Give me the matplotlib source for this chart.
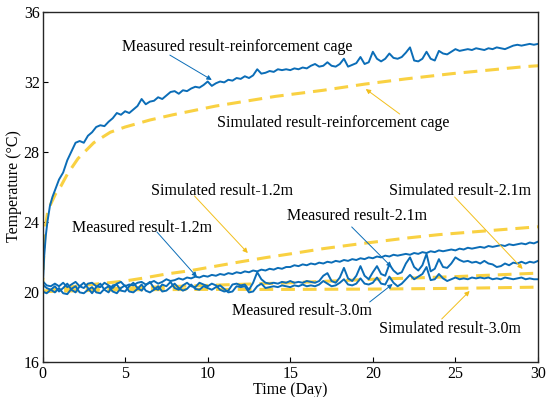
import matplotlib
matplotlib.use("Agg")
import matplotlib.pyplot as plt
import numpy as np

plt.rcParams['font.family'] = ['Liberation Serif', 'DejaVu Serif']
plt.rcParams['mathtext.fontset'] = 'stix'

# ---- measured data (read off the figure), 0.25 day steps ----
# reinforcement cage: first day with finer steps, then 0.25 day grid from day 1.25
cage_days_early = [0, 0.05, 0.1, 0.2, 0.3, 0.45, 0.6, 0.8, 1.0]
cage_early = [20.2, 21.0, 22.0, 23.2, 24.0, 24.9, 25.4, 25.9, 26.4]
cage_meas = [
    26.8, 27.5, 28.0,
    28.5, 28.6, 28.5, 28.9,
    29.1, 29.4, 29.5, 29.45,
    29.7, 29.9, 30.2, 30.1,
    30.3, 30.2, 30.4, 30.6,
    31.0, 30.7, 30.85, 30.9,
    31.1, 31.0, 31.2, 31.4,
    31.45, 31.3, 31.5, 31.45,
    31.6, 31.7, 31.65, 31.8,
    32.0, 31.75, 31.9, 32.0,
    31.95, 32.1, 32.05, 32.2,
    32.15, 32.3, 32.2, 32.35,
    32.7, 32.45, 32.5, 32.6,
    32.55, 32.7, 32.65, 32.7,
    32.65, 32.75, 32.7, 32.8,
    32.75, 32.9, 33.0, 32.85,
    32.9, 33.1, 32.9, 32.85,
    33.0, 33.3, 32.85, 32.95,
    33.05, 33.4, 33.0, 33.1,
    33.7, 33.3, 33.15, 33.3,
    33.6, 33.35, 33.3, 33.4,
    33.65, 33.95, 33.2, 33.15,
    33.3, 33.7, 33.3, 33.2,
    33.75, 33.6, 33.55, 33.7,
    33.85, 33.75, 33.8, 33.85,
    33.8, 33.9, 33.85, 33.8,
    33.9, 33.85, 33.95, 33.9,
    33.85, 33.95, 34.05, 34.1,
    34.05, 34.1, 34.15, 34.1,
    34.15,
]

# depth 1.2 m, days 0..30
meas_12 = [
    20.6, 20.35, 20.3, 20.45,
    20.3, 20.5, 20.25, 20.4,
    20.55, 20.3, 20.2, 20.45,
    20.5, 20.3, 20.25, 20.5,
    20.35, 20.2, 20.45, 20.55,
    20.3, 20.4, 20.35, 20.5,
    20.55, 20.4, 20.5, 20.6,
    20.45, 20.55, 20.7, 20.6,
    20.65, 20.75, 20.68, 20.8,
    20.75, 20.85, 20.8, 20.9,
    20.85, 20.95, 20.9, 21.0,
    20.95, 21.05, 21.0, 21.1,
    21.05, 21.15, 21.1, 21.2,
    21.15, 21.25, 21.2, 21.3,
    21.25, 21.35, 21.3, 21.4,
    21.4, 21.5, 21.45, 21.55,
    21.5, 21.6, 21.55, 21.65,
    21.6, 21.7, 21.65, 21.75,
    21.7, 21.8, 21.75, 21.85,
    21.8, 21.9, 21.85, 21.95,
    21.9, 22.0, 21.95, 22.05,
    22.0, 22.1, 22.05, 22.1,
    22.15, 22.1, 22.2, 22.15,
    22.25, 22.2, 22.3, 22.25,
    22.35, 22.3, 22.35, 22.4,
    22.35, 22.45, 22.4, 22.5,
    22.45, 22.5, 22.55, 22.5,
    22.6, 22.55, 22.6, 22.65,
    22.6, 22.7, 22.65, 22.7,
    22.75, 22.7, 22.8, 22.75,
    22.85,
]

# depth 2.1 m
meas_21 = [
    20.4, 20.2, 20.1, 20.3,
    20.0, 20.2, 20.45, 20.1,
    19.95, 20.3, 20.5, 20.2,
    19.9, 20.25, 20.45, 20.1,
    19.95, 20.35, 20.4, 20.05,
    20.0, 20.3, 20.5, 20.2,
    20.05, 20.35, 20.55, 20.2,
    20.1, 20.4, 20.3, 20.55,
    20.2, 20.1, 20.35, 20.5,
    20.3, 20.25, 20.5, 20.4,
    20.3, 20.45, 20.35, 20.1,
    20.0, 20.05, 20.4, 20.45,
    20.35, 20.4, 20.1, 20.5,
    21.1, 20.7, 20.5, 20.45,
    20.5, 20.45, 20.55, 20.5,
    20.6, 20.5, 20.55, 20.5,
    20.6, 20.55, 20.5, 20.6,
    20.9, 21.05, 20.6, 20.5,
    20.8, 21.35, 20.75, 20.6,
    20.9, 21.45, 20.9, 20.7,
    21.1, 21.45, 21.0, 20.9,
    21.55, 21.2, 21.0, 21.1,
    21.6, 21.95, 21.4, 21.2,
    21.5, 22.15, 21.15, 21.3,
    21.85, 21.4, 21.35, 21.6,
    21.95, 21.8, 21.7, 21.75,
    21.65, 21.7, 21.6, 21.75,
    21.6, 21.55, 21.4, 21.45,
    21.6, 21.5, 21.65, 21.6,
    21.7, 21.6, 21.7, 21.65,
    21.75,
]

# depth 3.0 m
meas_30 = [
    20.0, 19.9, 20.1, 19.95,
    20.2, 19.9, 19.85, 20.15,
    20.3, 19.95, 19.9, 20.1,
    20.25, 19.95, 19.9, 20.15,
    20.3, 20.0, 19.9, 20.2,
    20.35, 20.0, 19.95, 20.15,
    20.4, 20.05, 19.95, 20.1,
    20.3, 20.0, 20.05, 20.25,
    20.45, 20.2, 20.05, 20.15,
    20.4, 20.15, 20.1, 20.3,
    20.2, 20.1, 20.25, 20.35,
    20.15, 19.95, 20.0, 20.3,
    20.25, 20.3, 19.95, 20.0,
    20.3, 20.45, 20.2, 20.25,
    20.3, 20.25, 20.35, 20.3,
    20.25, 20.35, 20.3, 20.4,
    20.3, 20.35, 20.3, 20.4,
    20.6, 20.45, 20.3, 20.35,
    20.5, 20.7, 20.4, 20.35,
    20.45, 20.75, 20.45, 20.4,
    20.5, 20.8, 20.45, 20.4,
    20.85, 20.5, 20.3, 20.45,
    20.7, 20.95, 20.7, 20.85,
    21.0, 21.4, 20.65, 20.7,
    21.0, 20.75, 20.6, 20.7,
    20.8, 20.7, 20.75, 20.7,
    20.8, 20.75, 20.8, 20.75,
    20.8, 20.7, 20.75, 20.7,
    20.8, 20.75, 20.7, 20.75,
    20.8, 20.7, 20.75, 20.7,
    20.7,
]

# ---- simulated results ----
sim_cage_days = [0, 0.05, 0.15, 0.3, 0.5, 0.8, 1.1, 1.5, 2.15, 3.1, 4.1, 5, 6.5, 7.9,
                 10.5, 14.1, 17, 19.5, 22, 24.8, 27, 29.2, 30]
sim_cage = [20.0, 21.5, 23.5, 24.5, 25.0, 25.6, 26.0, 26.7, 27.6, 28.5, 29.1, 29.4, 29.8,
            30.1, 30.6, 31.15, 31.5, 31.85, 32.15, 32.45, 32.65, 32.85, 32.9]
sim_12_days = [0, 1, 2, 3, 4, 5, 6, 7.5, 9, 10.5, 12, 13.6, 15, 17, 19, 22, 24, 26, 28, 30]
sim_12 = [20.0, 20.15, 20.3, 20.4, 20.5, 20.6, 20.75, 21.0, 21.2, 21.45, 21.7, 21.95,
          22.15, 22.45, 22.7, 23.05, 23.25, 23.4, 23.55, 23.7]
sim_21_days = [0, 2, 5, 10, 15, 20, 25, 30]
sim_21 = [20.0, 20.1, 20.2, 20.35, 20.5, 20.7, 20.85, 21.05]
sim_30_days = [0, 5, 10, 15, 20, 25, 30]
sim_30 = [20.0, 20.1, 20.12, 20.12, 20.14, 20.18, 20.25]

blue = '#0b6db7'
yellow = '#f9d142'
arrow_yellow = '#f2bf1c'

fig = plt.figure(figsize=(5.5, 3.97), dpi=100)
ax = fig.add_axes([0.0773, 0.0894, 0.9009, 0.8816])

dash = dict(color=yellow, lw=2.2, dashes=(4.5, 2.6))
ax.plot(sim_cage_days, sim_cage, **dash)
ax.plot(sim_12_days, sim_12, **dash)
ax.plot(sim_21_days, sim_21, **dash)
ax.plot(sim_30_days, sim_30, **dash)

grid_days = np.arange(len(meas_12)) * 0.25
cage_days = np.concatenate([cage_days_early, 1.25 + np.arange(len(cage_meas)) * 0.25])
ax.plot(grid_days, meas_30, color=blue, lw=1.4)
ax.plot(grid_days, meas_21, color=blue, lw=1.4)
ax.plot(grid_days, meas_12, color=blue, lw=1.4)
ax.plot(cage_days, cage_early + cage_meas, color=blue, lw=1.4)

# labels with arrows: (text, text position, arrow tail, arrow head, arrow colour)
notes = [
    ("Measured result-reinforcement cage", (11.77, 33.97), (7.71, 33.51), (10.25, 32.09), blue),
    ("Simulated result-reinforcement cage", (17.57, 29.63), (21.63, 30.14), (19.57, 31.57), arrow_yellow),
    ("Simulated result-1.2m", (10.86, 25.74), (9.2, 25.46), (12.43, 22.2), arrow_yellow),
    ("Measured result-1.2m", (6.05, 23.63), (6.93, 23.4), (9.35, 20.83), blue),
    ("Measured result-2.1m", (19.06, 24.31), (18.72, 23.69), (21.14, 21.4), blue),
    ("Measured result-3.0m", (15.73, 18.89), (19.81, 19.4), (21.2, 20.43), blue),
    ("Simulated result-3.0m", (24.65, 17.86), (24.17, 18.43), (25.86, 20.03), arrow_yellow),
    ("Simulated result-2.1m", (25.26, 25.74), (24.95, 25.4), (29.07, 21.29), arrow_yellow),
]
for txt, pos, tail, head, c in notes:
    ax.text(pos[0], pos[1], txt, fontsize=11.5, ha='center', va='center')
    ax.annotate('', xy=head, xytext=tail,
                arrowprops=dict(arrowstyle='-|>', color=c, lw=0.7,
                                mutation_scale=7, shrinkA=0, shrinkB=0))

ax.set_xlim(0, 30)
ax.set_ylim(16, 36)
ax.set_xticks([0, 5, 10, 15, 20, 25, 30])
ax.set_yticks([16, 20, 24, 28, 32, 36])
ax.tick_params(direction='in', length=3.5, width=0.8, labelsize=11.5, pad=2)
ax.tick_params(axis='x', pad=3)
for s in ax.spines.values():
    s.set_color('#262626')
    s.set_linewidth(1.0)
ax.set_xlabel("Time (Day)", fontsize=11.5, labelpad=0)
ax.set_ylabel("Temperature (°C)", fontsize=11.5, labelpad=1)

fig.savefig("out.png", dpi=100)
